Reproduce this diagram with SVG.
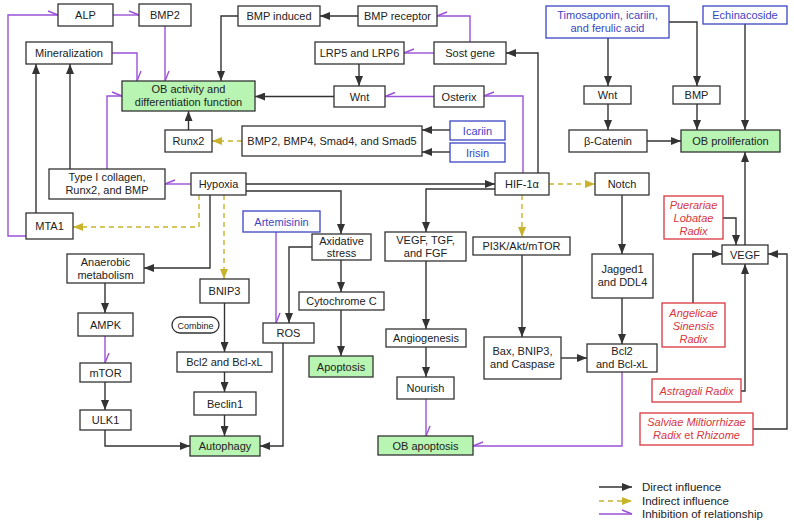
<svg xmlns="http://www.w3.org/2000/svg" width="794" height="524" viewBox="0 0 794 524">
<style>
text{font-family:"Liberation Sans",Arial,sans-serif;font-size:11px;fill:#222;text-anchor:middle}
.n rect{fill:#fff;stroke:#333;stroke-width:1.3}
.g rect{fill:#b8f5b2;stroke:#333;stroke-width:1.3}
.b rect{fill:#fff;stroke:#3b45c4;stroke-width:1.3}
.b text{fill:#3b45c4}
.r rect{fill:#fff;stroke:#d9363e;stroke-width:1.3}
.r text{fill:#d9363e;font-style:italic}
.k{fill:none;stroke:#333;stroke-width:1.4;marker-end:url(#ak)}
.y{fill:none;stroke:#c8b42c;stroke-width:1.4;stroke-dasharray:5 4;marker-end:url(#ay)}
.p{fill:none;stroke:#9a52d6;stroke-width:1.4;marker-end:url(#ip)}
.pl{fill:none;stroke:#9a52d6;stroke-width:1.4;marker-end:url(#ipl)}
.lg{text-anchor:start;font-size:11.5px}
</style>
<defs>
<marker id="ak" markerUnits="userSpaceOnUse" markerWidth="10" markerHeight="8" viewBox="0 0 10 8" refX="10" refY="4" orient="auto"><path d="M0,0 L10,4 L0,8 z" fill="#333"/></marker>
<marker id="ay" markerUnits="userSpaceOnUse" markerWidth="10" markerHeight="8" viewBox="0 0 10 8" refX="10" refY="4" orient="auto"><path d="M0,0 L10,4 L0,8 z" fill="#c8b42c"/></marker>
<marker id="ip" markerUnits="userSpaceOnUse" markerWidth="14" markerHeight="12" viewBox="-12 -6 14 12" refX="0" refY="0" orient="auto"><path d="M0,0 L-10,-4" stroke="#9a52d6" stroke-width="1.4" fill="none"/></marker>
<marker id="ipl" markerUnits="userSpaceOnUse" markerWidth="14" markerHeight="12" viewBox="-12 -6 14 12" refX="0" refY="0" orient="auto"><path d="M0,0 L-10,4" stroke="#9a52d6" stroke-width="1.4" fill="none"/></marker>
</defs>

<g id="connectors">
<path class="k" d="M358,16 H320"/>
<path class="k" d="M238,16 H221 V81"/>
<path class="k" d="M359,64 V86"/>
<path class="k" d="M334,96.5 H255"/>
<path class="k" d="M188.5,130 V111"/>
<path class="k" d="M538,173 V53 H506"/>
<path class="k" d="M450,130 H422"/>
<path class="k" d="M450,152 H422"/>
<path class="k" d="M70,169 V64"/>
<path class="k" d="M36,213 V64"/>
<path class="k" d="M246,184 H495"/>
<path class="k" d="M246,191 H341 V234"/>
<path class="k" d="M210,195 V268 H144"/>
<path class="k" d="M312,247 H289 V323"/>
<path class="k" d="M341,260 V292"/>
<path class="k" d="M341,310 V356"/>
<path class="k" d="M495,189 H426 V232"/>
<path class="k" d="M622,195 V254"/>
<path class="k" d="M622,298 V344"/>
<path class="k" d="M522,255 V337"/>
<path class="k" d="M561,358 H587"/>
<path class="k" d="M426,261 V329"/>
<path class="k" d="M426,347 V377"/>
<path class="k" d="M105,283 V313"/>
<path class="k" d="M105,382 V410"/>
<path class="k" d="M105,430 V446 H190"/>
<path class="k" d="M283,343 V446 H260"/>
<path class="k" d="M224.5,303 V352"/>
<path class="k" d="M224.5,372 V392"/>
<path class="k" d="M224.5,415 V436"/>
<path class="k" d="M608,38 V86"/>
<path class="k" d="M669,22 H697 V86"/>
<path class="k" d="M608,104 V130"/>
<path class="k" d="M647,141 H681"/>
<path class="k" d="M697,104 V130"/>
<path class="k" d="M745,24 V130"/>
<path class="k" d="M745,245 V152"/>
<path class="k" d="M723,218 H736 V245"/>
<path class="k" d="M693,303 V254 H722"/>
<path class="k" d="M741,391 H745 V264"/>
<path class="k" d="M753,429 H787 V254 H768"/>

<path class="y" d="M242,141 H212"/>
<path class="y" d="M199,195 V227 H73"/>
<path class="y" d="M224,195 V279"/>
<path class="y" d="M522,195 V237"/>
<path class="y" d="M549,184 H595"/>

<path class="p" d="M26,236 H8 V15 H58"/>
<path class="p" d="M113,15 H139"/>
<path class="p" d="M165,26 V81"/>
<path class="p" d="M112,53 H137 V81"/>
<path class="p" d="M107,169 V96 H122"/>
<path class="pl" d="M191,184 H165"/>
<path class="pl" d="M470,42 V16 H437"/>
<path class="pl" d="M434,53 H404"/>
<path class="pl" d="M434,96.5 H385"/>
<path class="pl" d="M523,173 V96 H484"/>
<path class="p" d="M276,232 V323"/>
<path class="p" d="M105,336 V363"/>
<path class="p" d="M426,399 V436"/>
<path class="pl" d="M622,372 V446 H473"/>
</g>

<g id="ALP" class="n"><rect x="58" y="4" width="55" height="22"/><text x="85.5" y="19">ALP</text></g>
<g id="BMP2" class="n"><rect x="139" y="4" width="52" height="22"/><text x="165" y="19">BMP2</text></g>
<g id="Mineralization" class="n"><rect x="26" y="42" width="86" height="22"/><text x="69" y="57">Mineralization</text></g>
<g id="OBactivity" class="g"><rect x="122" y="81" width="133" height="30"/><text x="188.5" y="93">OB activity and</text><text x="188.5" y="106">differentiation function</text></g>
<g id="Runx2" class="n"><rect x="165" y="130" width="47" height="22"/><text x="188.5" y="145">Runx2</text></g>
<g id="BMPSmad" class="n"><rect x="242" y="126" width="180" height="30"/><text x="332" y="145">BMP2, BMP4, Smad4, and Smad5</text></g>
<g id="Icariin" class="b"><rect x="450" y="121" width="55" height="19"/><text x="477.5" y="134.5">Icariin</text></g>
<g id="Irisin" class="b"><rect x="450" y="143" width="55" height="19"/><text x="477.5" y="156.5">Irisin</text></g>
<g id="TypeI" class="n"><rect x="49" y="169" width="116" height="30"/><text x="107" y="181">Type I collagen,</text><text x="107" y="194">Runx2, and BMP</text></g>
<g id="Hypoxia" class="n"><rect x="191" y="173" width="55" height="22"/><text x="218.5" y="188">Hypoxia</text></g>
<g id="MTA1" class="n"><rect x="26" y="213" width="47" height="26"/><text x="49.5" y="230">MTA1</text></g>
<g id="BMPinduced" class="n"><rect x="238" y="6" width="82" height="20"/><text x="279" y="20">BMP induced</text></g>
<g id="BMPreceptor" class="n"><rect x="358" y="6" width="79" height="20"/><text x="397.5" y="20">BMP receptor</text></g>
<g id="LRP" class="n"><rect x="315" y="42" width="89" height="22"/><text x="359.5" y="57">LRP5 and LRP6</text></g>
<g id="Sost" class="n"><rect x="434" y="42" width="72" height="22"/><text x="470" y="57">Sost gene</text></g>
<g id="Wnt1" class="n"><rect x="334" y="86" width="51" height="21"/><text x="359.5" y="100.5">Wnt</text></g>
<g id="Osterix" class="n"><rect x="434" y="86" width="50" height="21"/><text x="459" y="100.5">Osterix</text></g>
<g id="HIF" class="n"><rect x="495" y="173" width="54" height="22"/><text x="522" y="188">HIF-1α</text></g>
<g id="Timosaponin" class="b"><rect x="546" y="6" width="123" height="32"/><text x="607.5" y="19">Timosaponin, icariin,</text><text x="607.5" y="32">and ferulic acid</text></g>
<g id="Echinacoside" class="b"><rect x="703" y="6" width="84" height="18"/><text x="745" y="19">Echinacoside</text></g>
<g id="Wnt2" class="n"><rect x="584" y="86" width="47" height="18"/><text x="607.5" y="99">Wnt</text></g>
<g id="BMP" class="n"><rect x="673" y="86" width="47" height="18"/><text x="696.5" y="99">BMP</text></g>
<g id="Catenin" class="n"><rect x="569" y="130" width="78" height="22"/><text x="608" y="145">β-Catenin</text></g>
<g id="OBprolif" class="g"><rect x="681" y="130" width="99" height="22"/><text x="730.5" y="145">OB proliferation</text></g>
<g id="Notch" class="n"><rect x="595" y="173" width="54" height="22"/><text x="622" y="188">Notch</text></g>
<g id="Anaerobic" class="n"><rect x="67" y="254" width="77" height="29"/><text x="105.5" y="266">Anaerobic</text><text x="105.5" y="279">metabolism</text></g>
<g id="AMPK" class="n"><rect x="78" y="313" width="55" height="23"/><text x="105.5" y="328.5">AMPK</text></g>
<g id="BNIP3" class="n"><rect x="200" y="279" width="49" height="24"/><text x="224.5" y="295">BNIP3</text></g>
<g id="Combine" class="n"><rect x="172" y="317" width="47" height="16" rx="8"/><text x="195.5" y="328.5" style="font-size:9px">Combine</text></g>
<g id="Artemisinin" class="b"><rect x="243" y="211" width="77" height="21"/><text x="281.5" y="225.5">Artemisinin</text></g>
<g id="Axidative" class="n"><rect x="312" y="234" width="59" height="26"/><text x="341.5" y="245">Axidative</text><text x="341.5" y="257">stress</text></g>
<g id="ROS" class="n"><rect x="263" y="323" width="51" height="20"/><text x="288.5" y="337">ROS</text></g>
<g id="CytochromeC" class="n"><rect x="299" y="292" width="85" height="18"/><text x="341.5" y="305">Cytochrome C</text></g>
<g id="Apoptosis" class="g"><rect x="309" y="356" width="64" height="21"/><text x="341" y="370.5">Apoptosis</text></g>
<g id="VEGFTGF" class="n"><rect x="385" y="232" width="81" height="29"/><text x="425.5" y="244">VEGF, TGF,</text><text x="425.5" y="257">and FGF</text></g>
<g id="PI3K" class="n"><rect x="473" y="237" width="97" height="18"/><text x="521.5" y="250">PI3K/Akt/mTOR</text></g>
<g id="Jagged" class="n"><rect x="592" y="254" width="61" height="44"/><text x="622.5" y="273">Jagged1</text><text x="622.5" y="286">and DDL4</text></g>
<g id="Pueraria" class="r"><rect x="664" y="196" width="59" height="43"/><text x="693.5" y="209">Puerariae</text><text x="693.5" y="222">Lobatae</text><text x="693.5" y="235">Radix</text></g>
<g id="VEGF" class="n"><rect x="722" y="245" width="46" height="19"/><text x="745" y="258.5">VEGF</text></g>
<g id="Angelicae" class="r"><rect x="662" y="303" width="63" height="44"/><text x="693.5" y="317">Angelicae</text><text x="693.5" y="330">Sinensis</text><text x="693.5" y="343">Radix</text></g>
<g id="Angiogenesis" class="n"><rect x="386" y="329" width="80" height="18"/><text x="426" y="342">Angiogenesis</text></g>
<g id="Bax" class="n"><rect x="484" y="337" width="77" height="42"/><text x="522.5" y="355">Bax, BNIP3,</text><text x="522.5" y="368">and Caspase</text></g>
<g id="Bcl2R" class="n"><rect x="587" y="344" width="70" height="28"/><text x="622" y="355">Bcl2</text><text x="622" y="368">and Bcl-xL</text></g>
<g id="Nourish" class="n"><rect x="397" y="377" width="57" height="22"/><text x="425.5" y="392">Nourish</text></g>
<g id="OBapoptosis" class="g"><rect x="378" y="436" width="95" height="19"/><text x="425.5" y="449.5">OB apoptosis</text></g>
<g id="Astragali" class="r"><rect x="652" y="379" width="89" height="23"/><text x="696.5" y="394.5">Astragali Radix</text></g>
<g id="Salviae" class="r"><rect x="640" y="413" width="113" height="32"/><text x="696.5" y="426">Salviae Miltiorrhizae</text><text x="696.5" y="439">Radix <tspan style="font-style:normal">et</tspan> Rhizome</text></g>
<g id="Bcl2L" class="n"><rect x="177" y="352" width="95" height="20"/><text x="224.5" y="366">Bcl2 and Bcl-xL</text></g>
<g id="Beclin1" class="n"><rect x="194" y="392" width="62" height="23"/><text x="225" y="407.5">Beclin1</text></g>
<g id="Autophagy" class="g"><rect x="190" y="436" width="70" height="20"/><text x="225" y="450">Autophagy</text></g>
<g id="mTOR" class="n"><rect x="80" y="363" width="51" height="19"/><text x="105.5" y="376.5">mTOR</text></g>
<g id="ULK1" class="n"><rect x="80" y="410" width="51" height="20"/><text x="105.5" y="424">ULK1</text></g>

<g id="legend">
<path class="k" d="M599,487 H632"/>
<path class="y" d="M599,501 H632"/>
<path class="p" d="M599,514 H632"/>
<text class="lg" x="642" y="491">Direct influence</text>
<text class="lg" x="642" y="505">Indirect influence</text>
<text class="lg" x="642" y="518">Inhibition of relationship</text>
</g>
</svg>
